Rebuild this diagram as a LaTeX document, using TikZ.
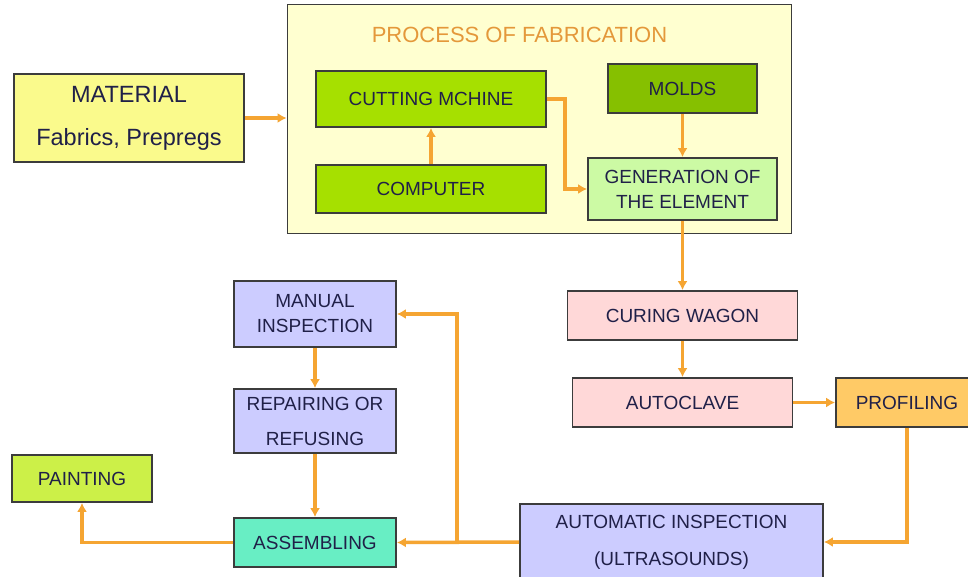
\documentclass[tikz,border=0pt]{standalone}
\usepackage{fontspec}
\setmainfont{Liberation Sans}
\usetikzlibrary{arrows.meta}
\definecolor{flowor}{RGB}{245,165,50}
\definecolor{titleor}{RGB}{228,152,58}
\definecolor{navytxt}{RGB}{32,32,72}
\definecolor{boxline}{RGB}{60,60,60}
\definecolor{matfill}{RGB}{250,250,140}
\definecolor{framefill}{RGB}{255,255,208}
\definecolor{limefill}{RGB}{166,224,0}
\definecolor{moldfill}{RGB}{134,192,0}
\definecolor{genfill}{RGB}{204,250,164}
\definecolor{pinkfill}{RGB}{255,216,216}
\definecolor{proffill}{RGB}{255,202,102}
\definecolor{lilacfill}{RGB}{204,204,255}
\definecolor{assemfill}{RGB}{104,238,196}
\definecolor{paintfill}{RGB}{204,240,72}
\tikzset{
  box/.style={draw=boxline, line width=1.8pt, inner sep=0pt, align=center,
    text=navytxt, font=\fontsize{19}{25}\selectfont},
  flow/.style={draw=flowor, line width=3.5pt, -{Latex[length=9pt,width=10pt]}},
}

\begin{document}
\begin{tikzpicture}[x=1pt,y=-1pt]
		\useasboundingbox (0,0) rectangle (968,577);
		\fill[white] (0,0) rectangle (968,577);
		\node[box, fill=framefill, minimum width=504pt, minimum height=229pt] (frame) at (539.5,119) {};
		\node[text=titleor, font=\fontsize{22}{26}\selectfont] (title) at (519.5,35) {PROCESS OF FABRICATION};
		\node[box, fill=matfill, minimum width=230pt, minimum height=88pt, font=\fontsize{23.5}{28}\selectfont] (mat) at (129,118) {MATERIAL\\[15pt]Fabrics, Prepregs};
		\node[box, fill=limefill, minimum width=230pt, minimum height=56pt] (cut) at (431,99) {CUTTING MCHINE};
		\node[box, fill=limefill, minimum width=230pt, minimum height=48pt] (comp) at (431,189) {COMPUTER};
		\node[box, fill=moldfill, minimum width=149pt, minimum height=49pt] (molds) at (682.5,88.5) {MOLDS};
		\node[box, fill=genfill, minimum width=189pt, minimum height=62pt] (gen) at (682.5,189) {GENERATION OF\\THE ELEMENT};
		\node[box, fill=pinkfill, minimum width=230pt, minimum height=49pt] (cure) at (682.5,315.5) {CURING WAGON};
		\node[box, fill=pinkfill, minimum width=220pt, minimum height=49pt] (clave) at (682.5,402.5) {AUTOCLAVE};
		\node[box, fill=proffill, minimum width=142pt, minimum height=49pt] (prof) at (907,402.5) {PROFILING};
		\node[box, fill=lilacfill, minimum width=303pt, minimum height=76pt] (autoin) at (671.5,542) {AUTOMATIC INSPECTION\\[12pt](ULTRASOUNDS)};
		\node[box, fill=lilacfill, minimum width=162pt, minimum height=66pt] (manual) at (315,314) {MANUAL\\INSPECTION};
		\node[box, fill=lilacfill, minimum width=162pt, minimum height=64pt] (repair) at (315,421) {REPAIRING OR\\[10pt]REFUSING};
		\node[box, fill=assemfill, minimum width=162pt, minimum height=49pt] (assem) at (315,542.5) {ASSEMBLING};
		\node[box, fill=paintfill, minimum width=140pt, minimum height=47pt] (paint) at (82,478.5) {PAINTING};
		\coordinate (split) at (457,542.5);
		\draw[flow] (mat.east) -- (mat.east -| frame.west);
		\draw[flow] (comp.north) -- (cut.south);
		\draw[flow] (cut.east) -- ++(18,0) |- (gen.west);
		\draw[flow] (molds.south) -- (gen.north);
		\draw[flow] (gen.south) -- (cure.north);
		\draw[flow] (cure.south) -- (clave.north);
		\draw[flow] (clave.east) -- (prof.west);
		\draw[flow] (prof.south) |- (autoin.east);
		\draw[flow] (autoin.west) -- (assem.east);
		\draw[flow] (split) |- (manual.east);
		\draw[flow] (manual.south) -- (repair.north);
		\draw[flow] (repair.south) -- (assem.north);
		\draw[flow] (assem.west) -| (paint.south);
\end{tikzpicture}
\end{document}
